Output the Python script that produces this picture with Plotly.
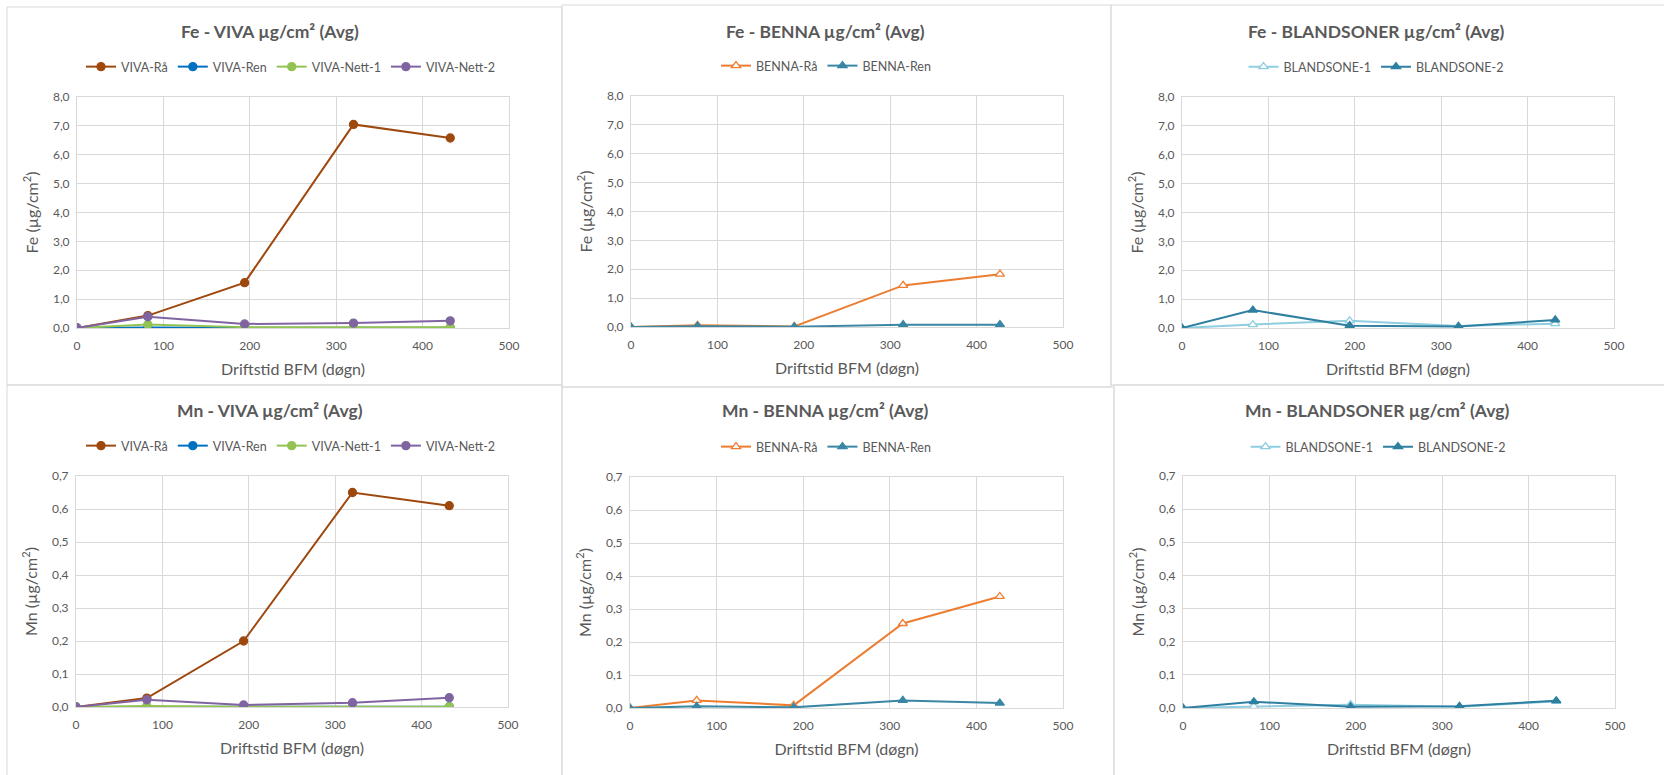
import plotly.graph_objects as go

W, H = 1664, 775

# ---------------- data ----------------
viva_x = [0, 82, 194, 320, 432]
benna_x = [0, 77, 189, 315, 427]
bland_x = [0, 82, 194, 320, 432]

fe_viva_raa = [0.0, 0.43, 1.57, 7.05, 6.58]
fe_viva_ren = [0.0, 0.02, 0.01, 0.01, 0.01]
fe_viva_nett1 = [0.0, 0.12, 0.03, 0.03, 0.03]
fe_viva_nett2 = [0.0, 0.39, 0.14, 0.17, 0.25]

fe_benna_raa = [0.0, 0.06, 0.02, 1.44, 1.83]
fe_benna_ren = [0.0, 0.03, 0.01, 0.08, 0.08]

fe_bland1 = [0.0, 0.12, 0.25, 0.07, 0.15]
fe_bland2 = [0.0, 0.62, 0.08, 0.05, 0.28]

mn_viva_raa = [0.0, 0.027, 0.200, 0.650, 0.610]
mn_viva_ren = [0.0, 0.001, 0.001, 0.001, 0.001]
mn_viva_nett1 = [0.0, 0.003, 0.001, 0.001, 0.001]
mn_viva_nett2 = [0.0, 0.022, 0.006, 0.013, 0.028]

mn_benna_raa = [0.0, 0.023, 0.008, 0.256, 0.338]
mn_benna_ren = [0.0, 0.005, 0.002, 0.023, 0.015]

mn_bland1 = [0.0, 0.005, 0.010, 0.004, 0.020]
mn_bland2 = [0.0, 0.019, 0.004, 0.005, 0.022]

titles = ["Fe - VIVA µg/cm² (Avg)", "Fe - BENNA µg/cm² (Avg)", "Fe - BLANDSONER µg/cm² (Avg)",
          "Mn - VIVA µg/cm² (Avg)", "Mn - BENNA µg/cm² (Avg)", "Mn - BLANDSONER µg/cm² (Avg)"]
x_title = "Driftstid BFM (døgn)"
fe_ytitle = "Fe (µg/cm<sup>2</sup>)"
mn_ytitle = "Mn (µg/cm<sup>2</sup>)"
x_ticks = [0, 100, 200, 300, 400, 500]
fe_ticks = [0, 1, 2, 3, 4, 5, 6, 7, 8]
mn_ticks = [0, 0.1, 0.2, 0.3, 0.4, 0.5, 0.6, 0.7]

# ---------------- styles ----------------
C_RAA = "#9E480E"
C_REN = "#0070C0"
C_N1 = "#92C353"
C_N2 = "#8064A2"
C_BRAA = "#ED7D31"
C_BREN = "#3A87A5"
C_BL1 = "#8FCDE0"
C_BL2 = "#2E7FA0"
TXT = "#595959"
GRID = "#D9D9D9"
FONT = "Lato"

# plot-area pixel boxes: (x0, x1, ytop, ybottom)
boxes = [
    (77, 509, 97, 328),
    (631, 1063, 96, 327),
    (1182, 1614, 97, 328),
    (76, 508, 476, 707),
    (630, 1063, 477, 708),
    (1183, 1615, 476, 708),
]
title_pos = [(270, 32), (825, 32), (1376, 32), (270, 410), (825, 411), (1377, 411)]
legend_pos = [(291, 67), (826, 66), (1376, 67), (291, 446), (826, 447), (1378, 447)]

fig = go.Figure()

def add(panel, name, x, y, color, symbol, open_marker=False, msize=8):
    idx = panel + 1
    xa = "x" if idx == 1 else f"x{idx}"
    ya = "y" if idx == 1 else f"y{idx}"
    lg = "legend" if idx == 1 else f"legend{idx}"
    fig.add_trace(go.Scatter(
        x=x, y=y, name=name, mode="lines+markers",
        xaxis=xa, yaxis=ya, legend=lg,
        line=dict(color=color, width=2),
        marker=dict(symbol=symbol, size=msize, color="white" if open_marker else color,
                    line=dict(color=color, width=1.3)),
        hoverinfo="x+y+name",
    ))

add(0, "VIVA-Rå", viva_x, fe_viva_raa, C_RAA, "circle")
add(0, "VIVA-Ren", viva_x, fe_viva_ren, C_REN, "circle")
add(0, "VIVA-Nett-1", viva_x, fe_viva_nett1, C_N1, "circle")
add(0, "VIVA-Nett-2", viva_x, fe_viva_nett2, C_N2, "circle")

add(1, "BENNA-Rå", benna_x, fe_benna_raa, C_BRAA, "triangle-up", open_marker=True)
add(1, "BENNA-Ren", benna_x, fe_benna_ren, C_BREN, "triangle-up")

add(2, "BLANDSONE-1", bland_x, fe_bland1, C_BL1, "triangle-up", open_marker=True)
add(2, "BLANDSONE-2", bland_x, fe_bland2, C_BL2, "triangle-up")

add(3, "VIVA-Rå", viva_x, mn_viva_raa, C_RAA, "circle")
add(3, "VIVA-Ren", viva_x, mn_viva_ren, C_REN, "circle")
add(3, "VIVA-Nett-1", viva_x, mn_viva_nett1, C_N1, "circle")
add(3, "VIVA-Nett-2", viva_x, mn_viva_nett2, C_N2, "circle")

add(4, "BENNA-Rå", benna_x, mn_benna_raa, C_BRAA, "triangle-up", open_marker=True)
add(4, "BENNA-Ren", benna_x, mn_benna_ren, C_BREN, "triangle-up")

add(5, "BLANDSONE-1", bland_x, mn_bland1, C_BL1, "triangle-up", open_marker=True)
add(5, "BLANDSONE-2", bland_x, mn_bland2, C_BL2, "triangle-up")

layout = dict(
    width=W, height=H,
    margin=dict(l=0, r=0, t=0, b=0, autoexpand=False),
    paper_bgcolor="white", plot_bgcolor="white",
    separators=", ",
    font=dict(family=FONT, color=TXT, size=12),
    showlegend=True,
)

annotations = []
for i, (x0, x1, yt, yb) in enumerate(boxes):
    idx = i + 1
    sfx = "" if idx == 1 else str(idx)
    is_fe = i < 3
    layout[f"xaxis{sfx}"] = dict(
        domain=[x0 / W, x1 / W], anchor=f"y{sfx}", range=[0, 500],
        tickvals=x_ticks, showgrid=True, gridcolor=GRID, gridwidth=1,
        showline=True, linecolor=GRID, linewidth=1, mirror=True,
        zeroline=False, ticks="", tickfont=dict(size=12, color=TXT),
        ticklabelstandoff=7, automargin=False,
        title=dict(text=x_title, font=dict(size=16, color=TXT), standoff=11),
    )
    layout[f"yaxis{sfx}"] = dict(
        domain=[1 - yb / H, 1 - yt / H], anchor=f"x{sfx}",
        range=[0, 8] if is_fe else [0, 0.7],
        tickvals=fe_ticks if is_fe else mn_ticks, tickformat=".1f",
        showgrid=True, gridcolor=GRID, gridwidth=1,
        showline=True, linecolor=GRID, linewidth=1, mirror=True,
        zeroline=False, ticks="", tickfont=dict(size=12, color=TXT),
        ticklabelstandoff=4, automargin=False,
        title=dict(text=fe_ytitle if is_fe else mn_ytitle, font=dict(size=16, color=TXT), standoff=10),
    )
    lx, ly = legend_pos[i]
    layout["legend" if idx == 1 else f"legend{idx}"] = dict(
        x=lx / W, y=1 - ly / H, xanchor="center", yanchor="middle",
        orientation="h", font=dict(size=12.5, color=TXT), bgcolor="rgba(0,0,0,0)",
        itemwidth=30, tracegroupgap=0,
    )
    tx, ty = title_pos[i]
    annotations.append(dict(
        text=f"<b>{titles[i]}</b>", x=tx / W, y=1 - ty / H, xref="paper", yref="paper",
        xanchor="center", yanchor="middle", showarrow=False,
        font=dict(size=17.5, color=TXT, family=FONT),
    ))

layout["annotations"] = annotations

# panel frames
frames = [(7, 562, 7, 385), (562, 1111, 5, 387), (1111, 1670, 5, 385),
          (7, 562, 385, 780), (562, 1114, 387, 780), (1114, 1670, 385, 780)]
shapes = []
for (a, b, c, d) in frames:
    shapes.append(dict(type="rect", xref="paper", yref="paper",
                       x0=a / W, x1=b / W, y0=1 - d / H, y1=1 - c / H,
                       line=dict(color="#D9D9D9", width=1), fillcolor="rgba(0,0,0,0)", layer="below"))
layout["shapes"] = shapes

fig.update_layout(**layout)
fig.write_html("out.html", config={"displayModeBar": False},
               post_script="document.body.style.margin='0';document.body.style.overflow='hidden';")
